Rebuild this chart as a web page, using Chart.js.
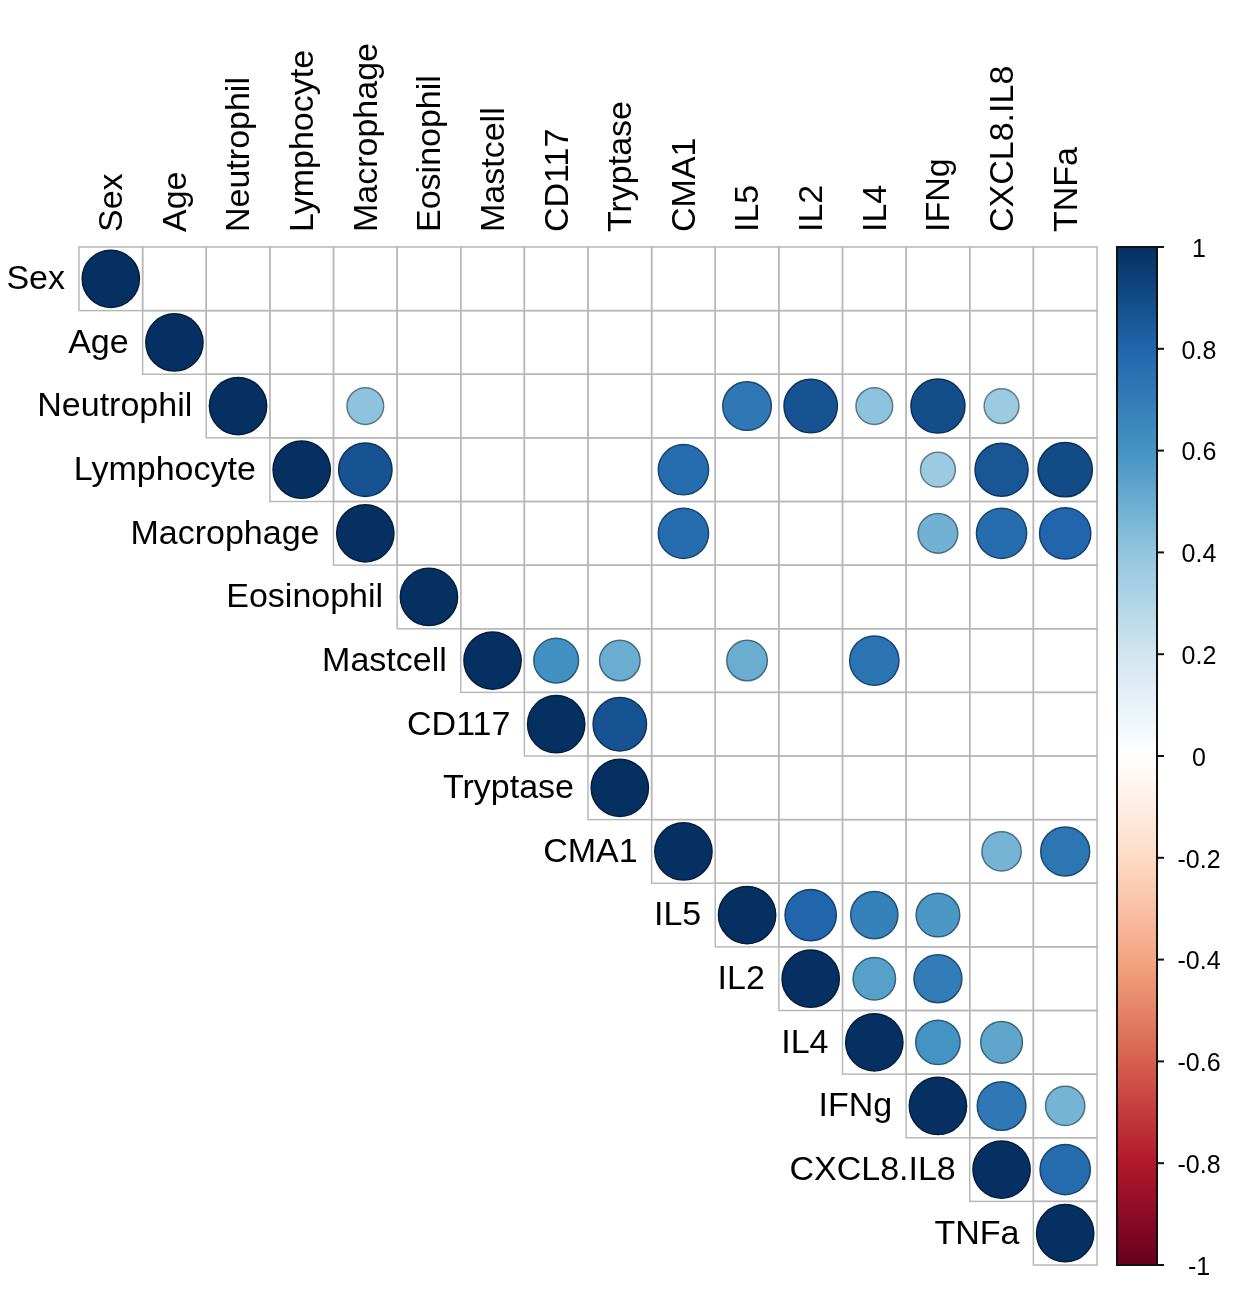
<!DOCTYPE html>
<html>
<head>
<meta charset="utf-8">
<script src="https://cdn.jsdelivr.net/npm/chart.js@4.4.0/dist/chart.umd.min.js"></script>
<style>
  html, body { margin: 0; padding: 0; background: #fff; }
  canvas { display: block; }
</style>
</head>
<body>
<canvas id="corrChart" width="1248" height="1291"></canvas>
<script>
// variable names (rows and columns)
var variables = ['Sex', 'Age', 'Neutrophil', 'Lymphocyte', 'Macrophage', 'Eosinophil',
  'Mastcell', 'CD117', 'Tryptase', 'CMA1', 'IL5', 'IL2', 'IL4', 'IFNg', 'CXCL8.IL8', 'TNFa'];

// upper triangle of the correlation matrix, null = blank cell
var rowSex        = [1, null, null, null, null, null, null, null, null, null, null, null, null, null, null, null];
var rowAge        = [null, 1, null, null, null, null, null, null, null, null, null, null, null, null, null, null];
var rowNeutrophil = [null, null, 1, null, 0.41, null, null, null, null, null, 0.72, 0.87, 0.41, 0.89, 0.37, null];
var rowLymphocyte = [null, null, null, 1, 0.87, null, null, null, null, 0.77, null, null, null, 0.37, 0.86, 0.9];
var rowMacrophage = [null, null, null, null, 1, null, null, null, null, 0.77, null, null, null, 0.48, 0.77, 0.8];
var rowEosinophil = [null, null, null, null, null, 1, null, null, null, null, null, null, null, null, null, null];
var rowMastcell   = [null, null, null, null, null, null, 1, 0.61, 0.5, null, 0.5, null, 0.74, null, null, null];
var rowCD117      = [null, null, null, null, null, null, null, 1, 0.87, null, null, null, null, null, null, null];
var rowTryptase   = [null, null, null, null, null, null, null, null, 1, null, null, null, null, null, null, null];
var rowCMA1       = [null, null, null, null, null, null, null, null, null, 1, null, null, null, null, 0.47, 0.73];
var rowIL5        = [null, null, null, null, null, null, null, null, null, null, 1, 0.8, 0.68, 0.58, null, null];
var rowIL2        = [null, null, null, null, null, null, null, null, null, null, null, 1, 0.55, 0.7, null, null];
var rowIL4        = [null, null, null, null, null, null, null, null, null, null, null, null, 1, 0.6, 0.53, null];
var rowIFNg       = [null, null, null, null, null, null, null, null, null, null, null, null, null, 1, 0.72, 0.47];
var rowCXCL8      = [null, null, null, null, null, null, null, null, null, null, null, null, null, null, 1, 0.77];
var rowTNFa       = [null, null, null, null, null, null, null, null, null, null, null, null, null, null, null, 1];

var corrRows = [rowSex, rowAge, rowNeutrophil, rowLymphocyte, rowMacrophage, rowEosinophil,
  rowMastcell, rowCD117, rowTryptase, rowCMA1, rowIL5, rowIL2, rowIL4, rowIFNg, rowCXCL8, rowTNFa];

// colour legend ticks
var legendTicks = [1, 0.8, 0.6, 0.4, 0.2, 0, -0.2, -0.4, -0.6, -0.8, -1];

// RdBu palette, from -1 to 1
var paletteRdBu = ['#67001F', '#B2182B', '#D6604D', '#F4A582', '#FDDBC7', '#FFFFFF',
  '#D1E5F0', '#92C5DE', '#4393C3', '#2166AC', '#053061'];

function hexToRgb(h) {
  return [parseInt(h.substr(1, 2), 16), parseInt(h.substr(3, 2), 16), parseInt(h.substr(5, 2), 16)];
}

function corrRgb(v) {
  var n = paletteRdBu.length;
  var t = (v + 1) / 2 * (n - 1);
  var k = Math.min(Math.floor(t), n - 2);
  var f = t - k;
  var a = hexToRgb(paletteRdBu[k]), b = hexToRgb(paletteRdBu[k + 1]);
  return [0, 1, 2].map(function (c) { return Math.round(a[c] + (b[c] - a[c]) * f); });
}

function corrColor(v, dark) {
  var c = corrRgb(v);
  var m = dark ? 0.62 : 1;
  return 'rgb(' + Math.round(c[0] * m) + ',' + Math.round(c[1] * m) + ',' + Math.round(c[2] * m) + ')';
}

function cellSize(chart) {
  var xs = chart.scales.x;
  return Math.abs(xs.getPixelForValue(1) - xs.getPixelForValue(0));
}

function circleRadius(ctx) {
  if (!ctx.raw) return 0;
  return 0.45 * cellSize(ctx.chart) * Math.sqrt(Math.abs(ctx.raw.v));
}

// points for the circles
var puntos = [];
corrRows.forEach(function (row, i) {
  row.forEach(function (v, j) {
    if (v !== null && j >= i) puntos.push({ x: j, y: i, v: v });
  });
});

var labelFont = '34px "Liberation Sans", Arial, sans-serif';
var legendFont = '25px "Liberation Sans", Arial, sans-serif';

// grid cells of the upper triangle
var gridPlugin = {
  id: 'corrGrid',
  beforeDatasetsDraw: function (chart) {
    var ctx = chart.ctx, xs = chart.scales.x, ys = chart.scales.y;
    var c = cellSize(chart);
    ctx.save();
    ctx.strokeStyle = '#b8b8b8';
    ctx.lineWidth = 1.5;
    for (var i = 0; i < variables.length; i++) {
      for (var j = i; j < variables.length; j++) {
        ctx.strokeRect(xs.getPixelForValue(j - 0.5), ys.getPixelForValue(i - 0.5), c, c);
      }
    }
    ctx.restore();
  }
};

// row / column labels and colour legend
var labelsPlugin = {
  id: 'corrLabels',
  afterDraw: function (chart) {
    var ctx = chart.ctx, xs = chart.scales.x, ys = chart.scales.y, cb = chart.scales.cb;
    var area = chart.chartArea;
    ctx.save();
    ctx.fillStyle = '#000';
    ctx.font = labelFont;

    // row labels, right aligned next to the diagonal
    ctx.textAlign = 'right';
    ctx.textBaseline = 'middle';
    variables.forEach(function (name, i) {
      ctx.fillText(name, xs.getPixelForValue(i - 0.5) - 14, ys.getPixelForValue(i) + 1);
    });

    // column labels, vertical on top
    ctx.textAlign = 'left';
    variables.forEach(function (name, j) {
      ctx.save();
      ctx.translate(xs.getPixelForValue(j) + 2, area.top - 15);
      ctx.rotate(-Math.PI / 2);
      ctx.fillText(name, 0, 0);
      ctx.restore();
    });

    // colour bar
    var barLeft = area.right + 20, barWidth = 40;
    var barTop = cb.getPixelForValue(1), barBottom = cb.getPixelForValue(-1);
    var grad = ctx.createLinearGradient(0, barTop, 0, barBottom);
    var n = paletteRdBu.length;
    for (var k = 0; k < n; k++) {
      grad.addColorStop(k / (n - 1), paletteRdBu[n - 1 - k]);
    }
    ctx.fillStyle = grad;
    ctx.fillRect(barLeft, barTop, barWidth, barBottom - barTop);
    ctx.strokeStyle = '#111';
    ctx.lineWidth = 2;
    ctx.strokeRect(barLeft, barTop, barWidth, barBottom - barTop);

    ctx.font = legendFont;
    ctx.fillStyle = '#000';
    ctx.textAlign = 'center';
    legendTicks.forEach(function (v) {
      var y = cb.getPixelForValue(v);
      ctx.beginPath();
      ctx.moveTo(barLeft + barWidth, y);
      ctx.lineTo(barLeft + barWidth + 7, y);
      ctx.stroke();
      ctx.fillText(String(v), barLeft + barWidth + 42, y + 3);
    });
    ctx.restore();
  }
};

var ctxCorr = document.getElementById('corrChart').getContext('2d');
var corrChart = new Chart(ctxCorr, {
  type: 'scatter',
  data: {
    datasets: [{
      data: puntos,
      pointRadius: circleRadius,
      pointHoverRadius: circleRadius,
      pointBackgroundColor: function (ctx) {
        return ctx.raw ? corrColor(ctx.raw.v, false) : '#fff';
      },
      pointBorderColor: function (ctx) {
        return ctx.raw ? corrColor(ctx.raw.v, true) : '#fff';
      },
      pointBorderWidth: 1.5
    }]
  },
  options: {
    responsive: false,
    devicePixelRatio: 1,
    animation: false,
    events: [],
    layout: {
      padding: { left: 79, top: 247, right: 151, bottom: 26 }
    },
    plugins: {
      legend: { display: false },
      tooltip: { enabled: false }
    },
    scales: {
      x: { type: 'linear', min: -0.5, max: variables.length - 0.5, display: false },
      y: { type: 'linear', min: -0.5, max: variables.length - 0.5, reverse: true, display: false },
      cb: { type: 'linear', position: 'right', min: -1, max: 1, display: false }
    }
  },
  plugins: [gridPlugin, labelsPlugin]
});
</script>
</body>
</html>
